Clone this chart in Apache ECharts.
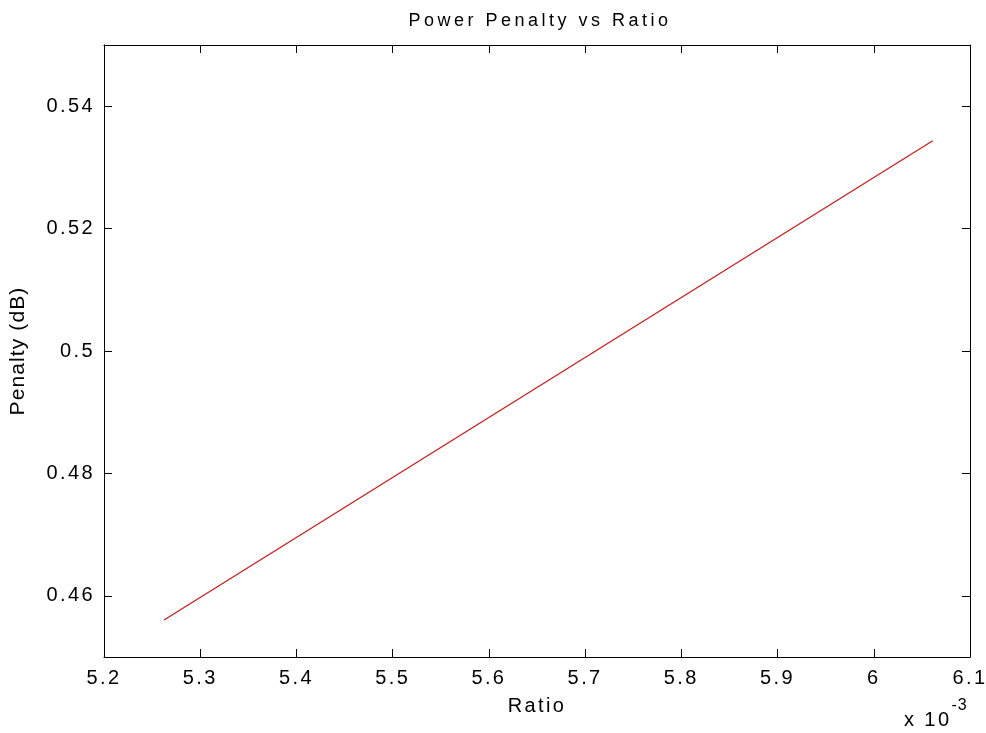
<!DOCTYPE html>
<html>
<head>
<meta charset="utf-8">
<script src="https://cdn.jsdelivr.net/npm/echarts@6/dist/echarts.min.js"></script>
<style>html,body{margin:0;padding:0;background:#fff}#c{width:986px;height:733px}</style>
</head>
<body>
<div id="c"></div>
<script>
// Ratio values in units of 1e-3
const ratio = [5.2624, 6.0613];
const penalty = [0.45605, 0.53436];
const xTicks = [5.2, 5.3, 5.4, 5.5, 5.6, 5.7, 5.8, 5.9, 6.0, 6.1];
const yTicks = [0.46, 0.48, 0.50, 0.52, 0.54];

// emulate the loose letter spacing of the original rendering
(function () {
  const P = CanvasRenderingContext2D.prototype;
  const spacingFor = f => {
    const m = /(\d+(?:\.\d+)?)px/.exec(f || '');
    const s = m ? parseFloat(m[1]) : 0;
    return ({ 18: 3.5, 20: 2.4, 21: 1.1, 16: 1 })[s] || 0;
  };
  if (!('letterSpacing' in P)) return;
  const wrap = name => {
    const orig = P[name];
    P[name] = function () {
      const prev = this.letterSpacing;
      this.letterSpacing = spacingFor(this.font) + 'px';
      const r = orig.apply(this, arguments);
      this.letterSpacing = prev;
      return r;
    };
  };
  wrap('fillText'); wrap('measureText'); wrap('strokeText');
})();

const chart = echarts.init(document.getElementById('c'));
const font = 'Liberation Sans, Arial, sans-serif';
const fmt = v => String(parseFloat(Number(v).toFixed(3)));
const baseX = {
  type: 'value', min: 5.2, max: 6.1, interval: 0.1,
  axisLine: { show: true, onZero: false, lineStyle: { color: '#000', width: 1 } },
  axisTick: { show: true, inside: true, length: 8, customValues: xTicks, lineStyle: { color: '#000' } },
  splitLine: { show: false }
};
const baseY = {
  type: 'value', min: 0.45, max: 0.55,
  axisLine: { show: true, onZero: false, lineStyle: { color: '#000', width: 1 } },
  axisTick: { show: true, inside: true, length: 8, customValues: yTicks, lineStyle: { color: '#000' } },
  splitLine: { show: false }
};
chart.setOption({
  animation: false,
  backgroundColor: '#fff',
  title: {
    text: 'Power Penalty vs Ratio', left: 535, top: 5, textAlign: 'center',
    textStyle: { fontFamily: font, fontSize: 18, fontWeight: 'normal', color: '#000' }
  },
  grid: { left: 104, top: 45, right: 16, bottom: 76, containLabel: false, outerBoundsMode: 'none' },
  xAxis: [
    Object.assign({}, baseX, {
      position: 'bottom',
      name: 'Ratio', nameLocation: 'middle', nameGap: 38,
      nameTextStyle: { fontFamily: font, fontSize: 20, color: '#000' },
      axisLabel: { show: true, margin: 10, fontFamily: font, fontSize: 20, color: '#000', formatter: fmt,
        customValues: xTicks }
    }),
    Object.assign({}, baseX, { position: 'top', axisLabel: { show: false } })
  ],
  yAxis: [
    Object.assign({}, baseY, {
      position: 'left',
      name: 'Penalty (dB)', nameLocation: 'middle', nameGap: 75,
      nameTextStyle: { fontFamily: font, fontSize: 21, color: '#000' },
      axisLabel: { show: true, margin: 9, fontFamily: font, fontSize: 20, color: '#000', formatter: fmt,
        customValues: yTicks }
    }),
    Object.assign({}, baseY, { position: 'right', axisLabel: { show: false } })
  ],
  graphic: [{
    type: 'text', left: 904, top: 697,
    style: {
      text: '{a|x 10}{b|-3}',
      rich: {
        a: { fontFamily: font, fontSize: 20, color: '#000', verticalAlign: 'bottom', padding: [12, 0, 0, 0] },
        b: { fontFamily: font, fontSize: 16, color: '#000', verticalAlign: 'top', padding: [0, 0, 12, 0] }
      }
    }
  }],
  series: [{
    type: 'line', xAxisIndex: 0, yAxisIndex: 0,
    data: ratio.map((r, i) => [r, penalty[i]]),
    showSymbol: false, symbol: 'none',
    lineStyle: { color: '#c41e1e', width: 1.3 }
  }]
});
</script>
</body>
</html>
